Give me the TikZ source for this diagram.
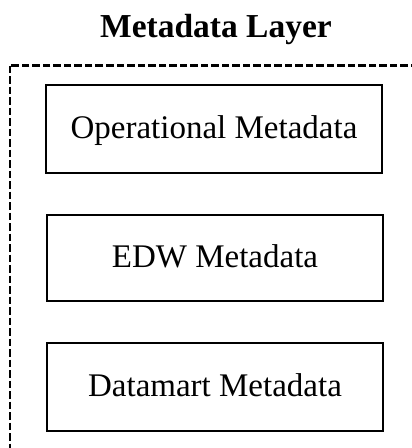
\documentclass[tikz,border=0pt]{standalone}
\usepackage{fontspec}
\setmainfont{Liberation Serif}
\begin{document}
\begin{tikzpicture}[x=1pt,y=-1pt,
  layerbox/.style={draw, line width=2.6pt, dash pattern=on 7.5pt off 3pt},
  metabox/.style={draw, line width=2pt, minimum width=336pt, minimum height=88pt,
    inner sep=0pt, text height=23pt, text depth=5pt, font=\fontsize{33}{37}\selectfont},
  titlefont/.style={font=\bfseries\fontsize{33.5}{37}\selectfont}]
  \useasboundingbox (0,0) rectangle (412,448);
  \clip (0,0) rectangle (412,448);
  % layer caption
  \node[titlefont, anchor=base] (title) at (216,37) {Metadata Layer};
  % dashed frame of the layer, running past the right and bottom edges
  \draw[layerbox] (10,65.5) rectangle (440,480);
  % the three kinds of metadata
  \node[metabox] (oper) at (214,129) {Operational Metadata};
  \node[metabox, minimum height=86pt] (edw) at (215,258) {EDW Metadata};
  \node[metabox] (mart) at (215,387) {Datamart Metadata};
\end{tikzpicture}
\end{document}
